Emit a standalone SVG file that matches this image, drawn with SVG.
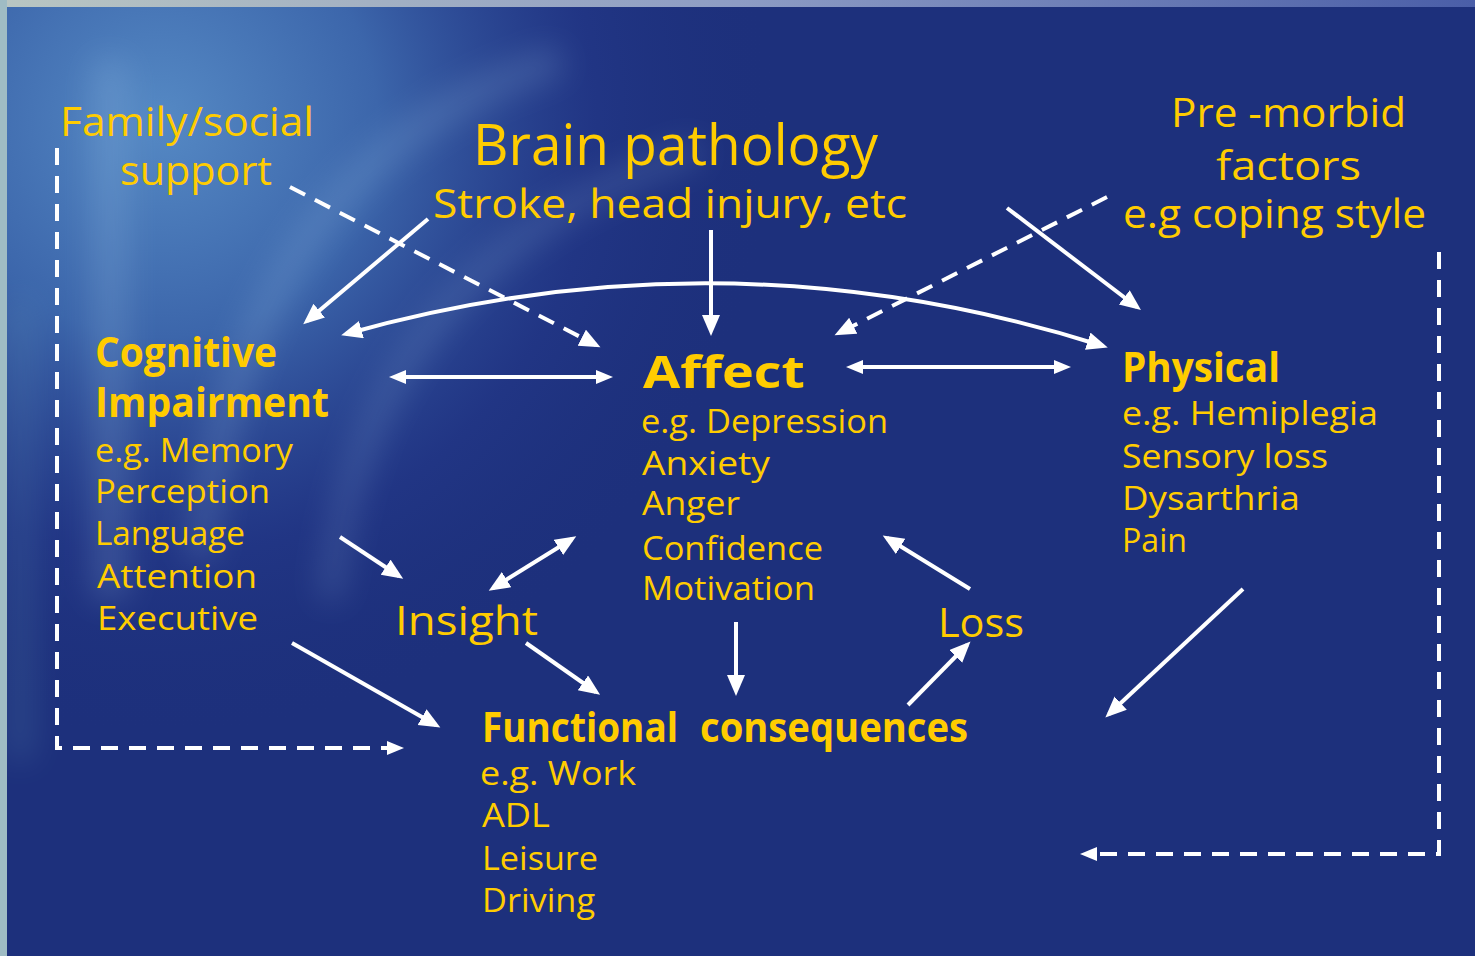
<svg xmlns="http://www.w3.org/2000/svg" width="1475" height="956" viewBox="0 0 1475 956">
<style>
text{font-family:"Open Sans","DejaVu Sans",sans-serif;fill:#ffcc00}
.m{font-size:40px}
.s{font-size:32px}
.b{font-size:41px;font-weight:700}
.ln{stroke:#fff;stroke-width:4;fill:none}
.d{stroke-dasharray:17 11}
</style>
<defs>
<marker id="ah" markerUnits="userSpaceOnUse" markerWidth="24" markerHeight="20" refX="16" refY="9" orient="auto-start-reverse">
<path d="M0,0 L21,9 L0,18 z" fill="#fff"/>
</marker>
<marker id="ahs" markerUnits="userSpaceOnUse" markerWidth="20" markerHeight="16" refX="12" refY="7" orient="auto-start-reverse">
<path d="M0,0 L17,7 L0,14 z" fill="#fff"/>
</marker>
<radialGradient id="glow" cx="160" cy="120" r="620" gradientUnits="userSpaceOnUse">
<stop offset="0" stop-color="#5589c4"/>
<stop offset="0.35" stop-color="#3c66ab"/>
<stop offset="0.7" stop-color="#24398a" stop-opacity="0.6"/>
<stop offset="1" stop-color="#1d307c" stop-opacity="0"/>
</radialGradient>
<linearGradient id="top" x1="0" y1="0" x2="1" y2="0">
<stop offset="0" stop-color="#b9c6c2"/>
<stop offset="0.5" stop-color="#8d9cc4"/>
<stop offset="1" stop-color="#4a5ea8"/>
</linearGradient>
<filter id="blur" x="-20%" y="-20%" width="140%" height="140%"><feGaussianBlur stdDeviation="16"/></filter>
</defs>
<rect width="1475" height="956" fill="#1d307c"/>
<rect width="1475" height="956" fill="url(#glow)"/>
<g filter="url(#blur)" opacity="0.2" fill="none" stroke="#a9d0f0">
<path d="M110 60 L110 600" stroke-width="34"/>
<path d="M200 560 Q240 160 560 60" stroke-width="26"/>
<path d="M330 600 Q360 260 700 150" stroke-width="20"/>
<path d="M20 300 L20 760" stroke-width="24" stroke="#6fb0c8"/>
</g>
<rect x="0" y="0" width="1475" height="7" fill="url(#top)"/>
<rect x="0" y="0" width="7" height="956" fill="#9fbcc4"/>

<g id="connectors">
<path class="ln" d="M428,219 L307,321" marker-end="url(#ah)"/>
<path class="ln d" d="M290,187 L596,345" marker-end="url(#ah)"/>
<path class="ln" d="M711,230 L711,331" marker-end="url(#ah)"/>
<path class="ln" d="M346,334 Q726,227 1103,346" marker-start="url(#ah)" marker-end="url(#ah)"/>
<path class="ln d" d="M1107,197 L839,333" marker-end="url(#ah)"/>
<path class="ln" d="M1007,208 L1137,307" marker-end="url(#ah)"/>
<path class="ln" d="M394,377 L608,377" marker-start="url(#ahs)" marker-end="url(#ahs)"/>
<path class="ln" d="M851,367 L1066,367" marker-start="url(#ahs)" marker-end="url(#ahs)"/>
<path class="ln" d="M340,537 L399,576" marker-end="url(#ah)"/>
<path class="ln" d="M493,588 L572,539" marker-start="url(#ah)" marker-end="url(#ah)"/>
<path class="ln" d="M526,643 L596,692" marker-end="url(#ah)"/>
<path class="ln" d="M292,643 L436,725" marker-end="url(#ah)"/>
<path class="ln" d="M736,622 L736,691" marker-end="url(#ah)"/>
<path class="ln" d="M908,705 L967,645" marker-end="url(#ah)"/>
<path class="ln" d="M970,589 L887,538" marker-end="url(#ah)"/>
<path class="ln" d="M1243,589 L1109,714" marker-end="url(#ah)"/>
<path class="ln d" d="M57,148 L57,748 L399,748" marker-end="url(#ahs)"/>
<path class="ln d" d="M1439,252 L1439,854 L1085,854" marker-end="url(#ahs)"/>
</g>

<g id="family">
<text class="m" x="60" y="136" textLength="254" lengthAdjust="spacingAndGlyphs">Family/social</text>
<text class="m" x="120" y="185" textLength="152" lengthAdjust="spacingAndGlyphs">support</text>
</g>
<g id="brain">
<text x="473" y="165" font-size="56" textLength="405" lengthAdjust="spacingAndGlyphs">Brain pathology</text>
<text class="m" x="433" y="218" textLength="474" lengthAdjust="spacingAndGlyphs">Stroke, head injury, etc</text>
</g>
<g id="premorbid">
<text class="m" x="1171" y="127" textLength="235" lengthAdjust="spacingAndGlyphs">Pre -morbid</text>
<text class="m" x="1216" y="180" textLength="145" lengthAdjust="spacingAndGlyphs">factors</text>
<text class="m" x="1123" y="228" textLength="303" lengthAdjust="spacingAndGlyphs">e.g coping style</text>
</g>
<g id="cognitive">
<text class="b" x="95" y="367" textLength="182" lengthAdjust="spacingAndGlyphs">Cognitive</text>
<text class="b" x="95" y="417" textLength="234" lengthAdjust="spacingAndGlyphs">Impairment</text>
<text class="s" x="95" y="462" textLength="198" lengthAdjust="spacingAndGlyphs">e.g. Memory</text>
<text class="s" x="95" y="503" textLength="175" lengthAdjust="spacingAndGlyphs">Perception</text>
<text class="s" x="95" y="545" textLength="150" lengthAdjust="spacingAndGlyphs">Language</text>
<text class="s" x="97" y="588" textLength="160" lengthAdjust="spacingAndGlyphs">Attention</text>
<text class="s" x="97" y="630" textLength="161" lengthAdjust="spacingAndGlyphs">Executive</text>
</g>
<g id="affect">
<text x="643" y="388" font-size="45" font-weight="700" textLength="162" lengthAdjust="spacingAndGlyphs">Affect</text>
<text class="s" x="641" y="433" textLength="247" lengthAdjust="spacingAndGlyphs">e.g. Depression</text>
<text class="s" x="642" y="475" textLength="128" lengthAdjust="spacingAndGlyphs">Anxiety</text>
<text class="s" x="642" y="515" textLength="98" lengthAdjust="spacingAndGlyphs">Anger</text>
<text class="s" x="642" y="560" textLength="181" lengthAdjust="spacingAndGlyphs">Confidence</text>
<text class="s" x="642" y="600" textLength="173" lengthAdjust="spacingAndGlyphs">Motivation</text>
</g>
<g id="physical">
<text class="b" x="1122" y="382" textLength="158" lengthAdjust="spacingAndGlyphs">Physical</text>
<text class="s" x="1122" y="425" textLength="256" lengthAdjust="spacingAndGlyphs">e.g.  Hemiplegia</text>
<text class="s" x="1122" y="468" textLength="206" lengthAdjust="spacingAndGlyphs">Sensory loss</text>
<text class="s" x="1122" y="510" textLength="178" lengthAdjust="spacingAndGlyphs">Dysarthria</text>
<text class="s" x="1122" y="552" textLength="65" lengthAdjust="spacingAndGlyphs">Pain</text>
</g>
<g id="insight">
<text class="m" x="395" y="635" textLength="143" lengthAdjust="spacingAndGlyphs">Insight</text>
</g>
<g id="loss">
<text class="m" x="938" y="637" textLength="86" lengthAdjust="spacingAndGlyphs">Loss</text>
</g>
<g id="functional">
<text class="b" y="742"><tspan x="482" textLength="196" lengthAdjust="spacingAndGlyphs">Functional</tspan> <tspan x="700" textLength="268" lengthAdjust="spacingAndGlyphs">consequences</tspan></text>
<text class="s" x="480" y="785" textLength="156" lengthAdjust="spacingAndGlyphs">e.g. Work</text>
<text class="s" x="482" y="827" textLength="68" lengthAdjust="spacingAndGlyphs">ADL</text>
<text class="s" x="482" y="870" textLength="116" lengthAdjust="spacingAndGlyphs">Leisure</text>
<text class="s" x="482" y="912" textLength="113" lengthAdjust="spacingAndGlyphs">Driving</text>
</g>
</svg>
